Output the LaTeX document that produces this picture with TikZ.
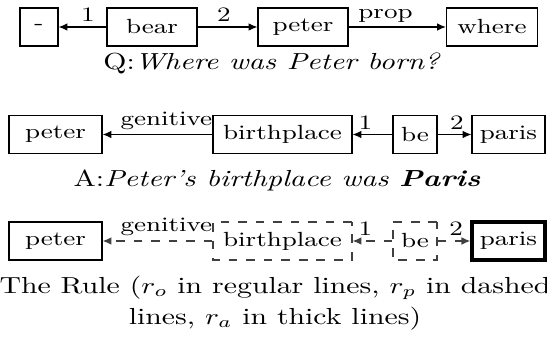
\documentclass[tikz,border=0pt]{standalone}
\usepackage{tikz}
\usetikzlibrary{arrows.meta,positioning}

\begin{document}
\begin{tikzpicture}[x=0.3425pt,y=-0.3425pt,
  every node/.append style={yscale=0.78, transform shape},
  word/.style={draw, rectangle, minimum height=16.7pt, inner sep=1pt, font=\fontsize{9}{11}\selectfont},
  ruleword/.style={word, dashed, draw=black!75},
  goal/.style={word, line width=1.2pt},
  rel/.style={-{Latex[length=3pt,width=2.6pt]}},
  rulerel/.style={rel, dashed, draw=black!75},
  lab/.style={above, inner sep=2pt, font=\fontsize{9}{11}\selectfont},
  caption/.style={font=\fontsize{10.2}{13.6}\selectfont}]
\useasboundingbox (0,0) rectangle (547,337);

\node[word, minimum width=13pt] (qdash) at (39,27) {-};
\node[word, minimum width=30.8pt] (qbear) at (152,27) {bear};
\node[word, minimum width=30.8pt] (qpeter) at (303,27) {peter};
\node[word, minimum width=31.2pt] (qwhere) at (492,27) {where};
\draw[rel] (qbear) -- node[lab, pos=0.39] {1} (qdash);
\draw[rel] (qbear) -- node[lab, pos=0.44] {2} (qpeter);
\draw[rel] (qpeter) -- node[lab, pos=0.38] {prop} (qwhere);
\node[caption] (qcap) at (272,63) {Q:\textit{Where was Peter born?}};

\node[word, minimum width=31.9pt] (apeter) at (55.5,134.5) {peter};
\node[word, minimum width=47.6pt] (abirth) at (282.5,134.5) {birthplace};
\node[word, minimum width=15.1pt] (abe) at (415,134.5) {be};
\node[word, minimum width=25pt] (aparis) at (508.5,134.5) {paris};
\draw[rel] (abirth) -- node[lab, pos=0.42] {genitive} (apeter);
\draw[rel] (abe) -- node[lab, pos=0.68] {1} (abirth);
\draw[rel] (abe) -- node[lab, pos=0.57] {2} (aparis);
\node[caption] (acap) at (277,180) {A:\textit{Peter's birthplace was \textbf{Paris}}};

\node[word, minimum width=31.9pt] (rpeter) at (55.5,241) {peter};
\node[ruleword, minimum width=47.6pt] (rbirth) at (282.5,241) {birthplace};
\node[ruleword, minimum width=15.1pt] (rbe) at (415,241) {be};
\node[goal, minimum width=25pt] (rparis) at (508.5,241) {paris};
\draw[rulerel] (rbirth) -- node[lab, pos=0.42] {genitive} (rpeter);
\draw[rulerel] (rbe) -- node[lab, pos=0.68] {1} (rbirth);
\draw[rulerel] (rbe) -- node[lab, pos=0.57] {2} (rparis);
\node[caption, align=center] (rcap) at (275,303) {The Rule ($r_o$ in regular lines, $r_p$ in dashed\\lines, $r_a$ in thick lines)};
\end{tikzpicture}
\end{document}
